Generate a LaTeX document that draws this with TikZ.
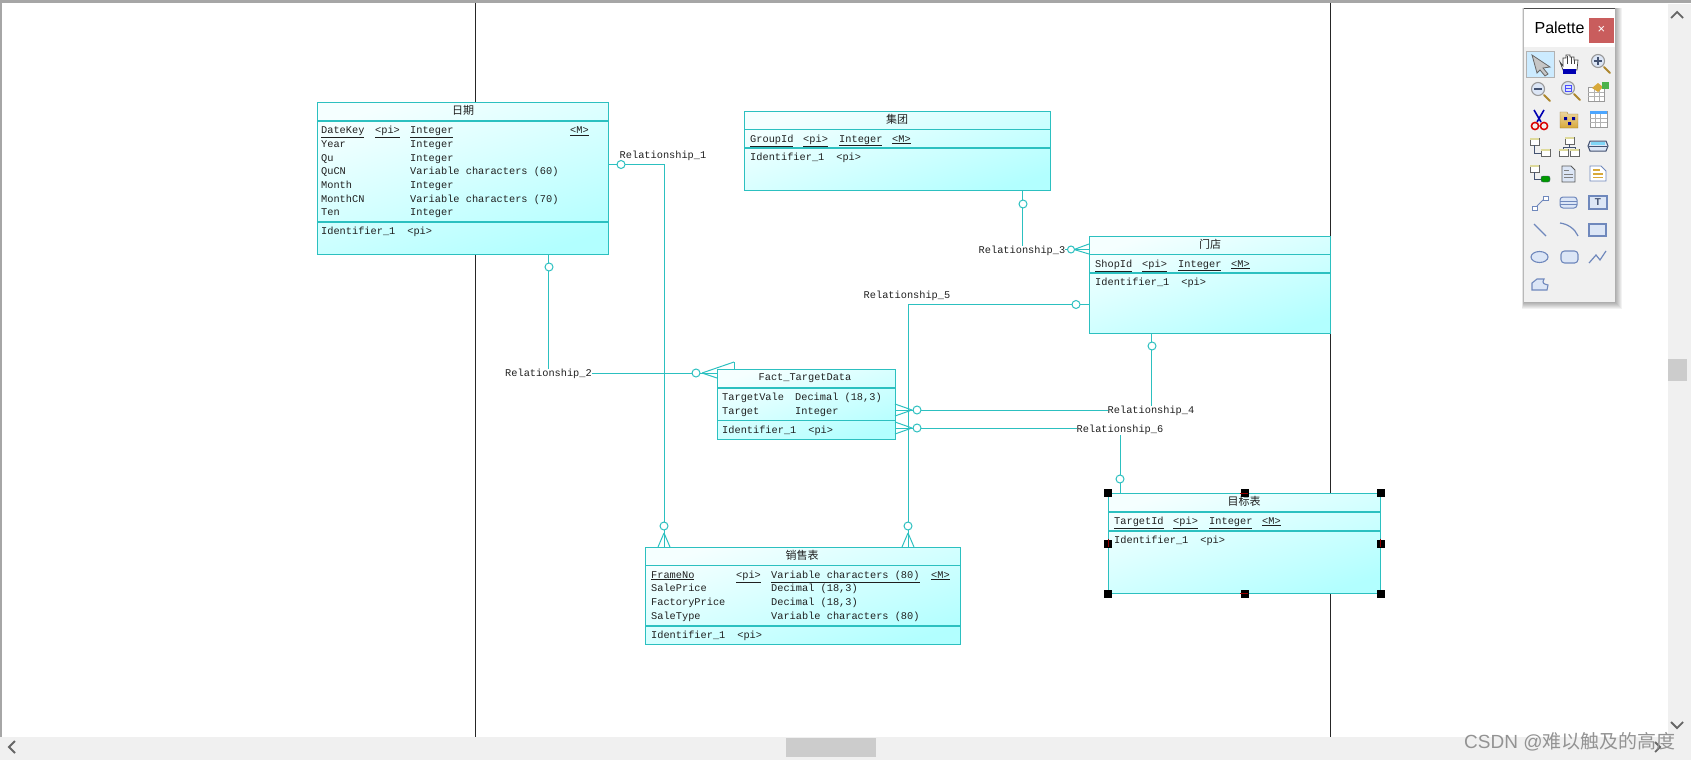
\documentclass[tikz,border=0pt]{standalone}
\usepackage{fontspec}
\setmainfont{Liberation Sans}
\setmonofont{Liberation Mono}
\newfontfamily\cjk{Noto Sans CJK SC}
\usetikzlibrary{shapes.geometric}
\definecolor{tl}{HTML}{2CC0C0}
\definecolor{ink}{HTML}{202020}
\definecolor{bar}{HTML}{F0F0F0}
\definecolor{ico}{HTML}{6F88BC}
\definecolor{icof}{HTML}{DCE6F6}
\definecolor{gold}{HTML}{D8A93A}
\newcommand{\mk}[2]{\makebox[#1pt][l]{#2}}
\newcommand{\ul}[1]{\underline{#1}}
\newcommand{\crowfoot}[3]{\draw[conn] (#1) -- (#2) (#1) -- (#3);}
\newcommand{\magn}[3]{\begin{scope}[shift={(#1,#2)}]
 \draw[gold!80!black,line width=2pt,line cap=round] (4,4) -- (10,10);
 \draw[gray!80,line width=1.1pt,fill=icof] (-2,-2) circle (6.5);
 #3
 \end{scope}}
\newcommand{\minitab}[2]{\draw[gray!80!black,fill=white,line width=.7pt] (#1,#2) rectangle ++(9,7); \fill[gray!50!yellow!60] (#1+.4,#2+.4) rectangle ++(8.2,2);}
\tikzset{
 x=1pt,y=-1pt,
 box/.style={draw=tl,line width=1.2pt,anchor=north west,inner sep=0pt,top color=white!96!cyan,bottom color=cyan!30,shading angle=18},
 attr/.style={anchor=north west,inner sep=0pt,align=left,text=ink,font=\ttfamily\fontsize{10.3}{13.7}\selectfont},
 ttl/.style={inner sep=0pt,text=ink},
 rel/.style={inner sep=0pt,fill=white,text=ink,font=\ttfamily\fontsize{10.3}{12}\selectfont},
 conn/.style={draw=tl,line width=1pt},
 divl/.style={draw=tl,line width=1.1pt},
 oc/.style={draw=tl,line width=1pt,fill=white,circle,inner sep=0pt,minimum size=8pt},
 frame/.style={draw=black!85,line width=.9pt},
 handle/.style={fill=black,inner sep=0pt,minimum size=8pt},
 icl/.style={draw=ico,line width=1.1pt,fill=icof}
}
\begin{document}
\begin{tikzpicture}
\useasboundingbox (0,0) rectangle (1691,760);
\fill[white] (0,0) rectangle (1691,760);
% window frame
\fill[gray!70] (0,0) rectangle (1691,3.5);
\fill[gray!70] (0,0) rectangle (2,738);
% page lines
\draw[frame] (475,3) -- (475,738);
\draw[frame] (1330,3) -- (1330,738);
% scrollbars
\fill[bar] (0,737) rectangle (1691,760);
\fill[bar] (1668,4) rectangle (1691,760);
\fill[gray!40] (786,738) rectangle (876,757);
\fill[gray!40] (1668,359) rectangle (1687,381);
\draw[gray!80!black,line width=1.8pt] (1671,18) -- (1677,12) -- (1683,18);
\draw[gray!80!black,line width=1.8pt] (1671,722) -- (1677,728) -- (1683,722);
\draw[gray!80!black,line width=1.8pt] (15,741) -- (9,747) -- (15,753);
\draw[gray!80!black,line width=1.8pt] (1655,742) -- (1660,747) -- (1655,752);

% entity boxes
\node[box,minimum width=291pt,minimum height=152pt] (date) at (317,102) {};
\node[box,minimum width=306pt,minimum height=79pt] (group) at (744,111) {};
\node[box,minimum width=241pt,minimum height=97pt] (shop) at (1089,236) {};
\node[box,minimum width=178pt,minimum height=70pt] (fact) at (717,369) {};
\node[box,minimum width=315pt,minimum height=97pt] (sale) at (645,547) {};
\node[box,minimum width=272pt,minimum height=100pt] (target) at (1108,493) {};

% compartments
\draw[divl] (date.west |- 0,121) -- (date.east |- 0,121);
\draw[divl] (date.west |- 0,222) -- (date.east |- 0,222);
\draw[divl] (group.west |- 0,129.5) -- (group.east |- 0,129.5);
\draw[divl] (group.west |- 0,148) -- (group.east |- 0,148);
\draw[divl] (shop.west |- 0,254.5) -- (shop.east |- 0,254.5);
\draw[divl] (shop.west |- 0,273) -- (shop.east |- 0,273);
\draw[divl] (fact.west |- 0,388) -- (fact.east |- 0,388);
\draw[divl] (fact.west |- 0,420.5) -- (fact.east |- 0,420.5);
\draw[divl] (sale.west |- 0,565.5) -- (sale.east |- 0,565.5);
\draw[divl] (sale.west |- 0,626) -- (sale.east |- 0,626);
\draw[divl] (target.west |- 0,512) -- (target.east |- 0,512);
\draw[divl] (target.west |- 0,531) -- (target.east |- 0,531);

% titles
\node[ttl,font=\cjk\fontsize{11}{12}\selectfont] (t1) at (463,110) {日期};
\node[ttl,font=\cjk\fontsize{11}{12}\selectfont] (t2) at (897,119) {集团};
\node[ttl,font=\cjk\fontsize{11}{12}\selectfont] (t3) at (1210,244) {门店};
\node[ttl,font=\ttfamily\fontsize{10.3}{12}\selectfont] (t4) at (805,378.5) {Fact\_TargetData};
\node[ttl,font=\cjk\fontsize{11}{12}\selectfont] (t5) at (802,555) {销售表};
\node[ttl,font=\cjk\fontsize{11}{12}\selectfont] (t6) at (1244,501) {目标表};

% attributes
\node[attr] (a1) at (321,126) {\mk{54}{\ul{DateKey}}\mk{35}{\ul{<pi>}}\mk{160}{\ul{Integer}}\ul{<M>}\\
 \mk{54}{Year}\mk{35}{}Integer\\
 \mk{54}{Qu}\mk{35}{}Integer\\
 \mk{54}{QuCN}\mk{35}{}Variable characters (60)\\
 \mk{54}{Month}\mk{35}{}Integer\\
 \mk{54}{MonthCN}\mk{35}{}Variable characters (70)\\
 \mk{54}{Ten}\mk{35}{}Integer};
\node[attr] (a2) at (750,134.5) {\mk{53}{\ul{GroupId}}\mk{36}{\ul{<pi>}}\mk{53}{\ul{Integer}}\ul{<M>}};
\node[attr] (a3) at (1095,259.5) {\mk{47}{\ul{ShopId}}\mk{36}{\ul{<pi>}}\mk{53}{\ul{Integer}}\ul{<M>}};
\node[attr] (a4) at (722,393) {\mk{73}{TargetVale}Decimal (18,3)\\ \mk{73}{Target}Integer};
\node[attr] (a5) at (651,570.5) {\mk{85}{\ul{FrameNo}}\mk{35}{\ul{<pi>}}\mk{160}{\ul{Variable characters (80)}}\ul{<M>}\\
 \mk{120}{SalePrice}Decimal (18,3)\\
 \mk{120}{FactoryPrice}Decimal (18,3)\\
 \mk{120}{SaleType}Variable characters (80)};
\node[attr] (a6) at (1114,516.5) {\mk{59}{\ul{TargetId}}\mk{36}{\ul{<pi>}}\mk{53}{\ul{Integer}}\ul{<M>}};
% identifiers
\node[attr] (i1) at (321,227) {Identifier\_1\hspace{12pt}<pi>};
\node[attr] (i2) at (750,153) {Identifier\_1\hspace{12pt}<pi>};
\node[attr] (i3) at (1095,278) {Identifier\_1\hspace{12pt}<pi>};
\node[attr] (i4) at (722,425.5) {Identifier\_1\hspace{12pt}<pi>};
\node[attr] (i5) at (651,631) {Identifier\_1\hspace{12pt}<pi>};
\node[attr] (i6) at (1114,536) {Identifier\_1\hspace{12pt}<pi>};

% relationship labels
\node[rel,fill=none] (rel1) at (663,155.5) {Relationship\_1};
\node[rel] (rel2) at (548.5,374) {Relationship\_2};
\node[rel] (rel3) at (1022,250.5) {Relationship\_3};
\node[rel] (rel4) at (1151,411) {Relationship\_4};
\node[rel,fill=none] (rel5) at (907,296) {Relationship\_5};
\node[rel] (rel6) at (1120,430) {Relationship\_6};

% elbows
\coordinate (k1) at (664,164.5);
\coordinate (k5) at (908,304.5);
\coordinate (y2) at (0,373);
\coordinate (y3) at (0,249.5);
\coordinate (y4) at (0,410);
\coordinate (y6) at (0,428);

% connectors
\draw[conn] (date.east |- k1) -- (k1) -- (sale.north -| k1);
\draw[conn] (rel2 |- date.south) -- (rel2.north);
\draw[conn] (rel2.east |- y2) -- (fact.west |- y2);
\draw[conn] (rel3 |- group.south) -- (rel3.north);
\draw[conn] (rel3.east |- y3) -- (shop.west |- y3);
\draw[conn] (rel4 |- shop.south) -- (rel4.north);
\draw[conn] (rel4.west |- y4) -- (fact.east |- y4);
\draw[conn] (shop.west |- k5) -- (k5) -- (sale.north -| k5);
\draw[conn] (rel6 |- target.north) -- (rel6.south);
\draw[conn] (rel6.west |- y6) -- (fact.east |- y6);

% crow's feet
\coordinate (c1) at (664,533); \coordinate (c1a) at (658,547); \coordinate (c1b) at (670,547);
\crowfoot{c1}{c1a}{c1b}
\coordinate (c5) at (908,533); \coordinate (c5a) at (902,547); \coordinate (c5b) at (914,547);
\crowfoot{c5}{c5a}{c5b}
\coordinate (c2) at (702,373); \coordinate (c2a) at (734,362); \coordinate (c2b) at (717,378);
\crowfoot{c2}{c2a}{c2b}
\draw[conn] (c2a) -- (734,369);
\coordinate (c3) at (1074,249.5); \coordinate (c3a) at (1089,244); \coordinate (c3b) at (1089,254);
\crowfoot{c3}{c3a}{c3b}
\coordinate (c4) at (912,410); \coordinate (c4a) at (895,404); \coordinate (c4b) at (895,416);
\crowfoot{c4}{c4a}{c4b}
\coordinate (c6) at (912,428); \coordinate (c6a) at (895,422); \coordinate (c6b) at (895,434);
\crowfoot{c6}{c6a}{c6b}

% optional circles
\node[oc] (o1) at (621,164.5) {};
\node[oc] (o1b) at (664,526) {};
\node[oc] (o2) at (549,267) {};
\node[oc] (o2b) at (696,373) {};
\node[oc] (o3) at (1023,204) {};
\node[oc,minimum size=7pt] (o3b) at (1071,249.5) {};
\node[oc] (o4) at (1152,346) {};
\node[oc] (o4b) at (917,410) {};
\node[oc] (o5) at (1076,304.5) {};
\node[oc] (o5b) at (908,526) {};
\node[oc] (o6) at (1120,479) {};
\node[oc] (o6b) at (917,428) {};

% selection handles
\foreach \n/\a in {h1/north west,h2/north,h3/north east,h4/west,h5/east,h6/south west,h7/south,h8/south east}{
 \node[handle] (\n) at (target.\a) {};
}
\draw[red!60!black,line width=1pt] (1240,493) -- (1248,493) (1240,593) -- (1248,593) (1108,538.5) -- (1108,546.5) (1380,538.5) -- (1380,546.5);

% watermark
\node[inner sep=0pt,anchor=west,text=gray!85,font=\fontsize{19}{22}\selectfont] (wm) at (1464,742) {CSDN @{\cjk 难以触及的高度}};

% palette
\foreach \e in {7,6,5,4,3,2,1}{\fill[black,opacity=.05] (1524-\e*.3,8) rectangle (1615+\e,302+\e);}
\fill[bar] (1524,8) rectangle (1615,302);
\fill[white] (1524,9) rectangle (1615,47);
\draw[gray!60!black,line width=1pt] (1524,8.5) -- (1615,8.5);
\fill[red!50!gray!85!white] (1589,18) rectangle (1614,43);
\node[inner sep=0pt,text=white,font=\fontsize{13}{13}\selectfont] (pclose) at (1601.5,30) {×};
\node[inner sep=0pt,text=black,font=\fontsize{16}{17}\selectfont] (ptitle) at (1559.5,28) {Palette};
% selected tool
\draw[gray!60,fill=blue!40!cyan!20] (1526.5,51) rectangle (1554,77);
% r1
\draw[gray!80!black,fill=gray!45,line width=.8pt] (1532,55) -- (1550,67) -- (1543,68) -- (1548,74) -- (1545,76) -- (1540,70) -- (1537,73) -- cycle;
\begin{scope}[shift={(1569,64)}]
 \draw[gray!50!black,fill=white,line width=.7pt] (-9,-2) -- (-6,2) -- (-6,-6) -- (-3,-6) -- (-3,-9) -- (1,-9) -- (1,-7) -- (5,-7) -- (5,-4) -- (9,-4) -- (8,6) -- (-6,6) -- cycle;
 \draw[gray!50!black,line width=.5pt] (-2,-8) -- (-2,0) (2,-7) -- (2,0) (5,-4) -- (5,0);
 \fill[blue!70!black] (-6,5) rectangle (7,10);
\end{scope}
\magn{1600}{63}{\draw[ico!60!black,line width=1.3pt] (-6,-2) -- (2,-2) (-2,-6) -- (-2,2);}
% r2
\magn{1540}{91}{\draw[ico!60!black,line width=1.3pt] (-6,-2) -- (2,-2);}
\magn{1570}{90}{\draw[blue!70,line width=1pt] (-5,-5) rectangle (1,1) (-5,-2) -- (1,-2);}
\begin{scope}[shift={(1598,91)}]
 \draw[gray!80,fill=white] (-10,-4) rectangle (6,10);
 \draw[gray!60] (-10,1) -- (6,1) (-10,5) -- (6,5) (-4,-4) -- (-4,10) (1,-4) -- (1,10);
 \fill[gold] (-6,-3) -- (0,-8) -- (5,-4) -- (0,1) -- cycle;
 \fill[green!40!gray] (4,-9) rectangle (11,-2);
\end{scope}
% r3
\begin{scope}[shift={(1539,119)}]
 \draw[blue!70!black,line width=1.6pt] (-5,-9) -- (2,3) (5,-9) -- (-2,3);
 \draw[red!85!black,line width=1.5pt] (-4,7) circle (3.6) (5,7) circle (3.6);
\end{scope}
\begin{scope}[shift={(1569,119)}]
 \draw[gold!70!black,top color=gold!50,bottom color=gold] (-9,-7) -- (-2,-7) -- (-1,-5) -- (9,-5) -- (9,9) -- (-9,9) -- cycle;
 \fill[blue!60!black] (-5,-2) rectangle (-2,1) (3,-2) rectangle (6,1) (-1,3) rectangle (2,6);
\end{scope}
\begin{scope}[shift={(1598,119)}]
 \draw[gray!80,fill=white] (-8,-8) rectangle (9,8);
 \fill[blue!50!cyan!70] (-8,-8) rectangle (9,-5);
 \draw[gray!60] (-8,-1) -- (9,-1) (-8,3) -- (9,3) (-3,-5) -- (-3,8) (2,-5) -- (2,8);
\end{scope}
% r4
\minitab{1530}{138}\minitab{1541}{149}
\draw[ico!60!black,line width=1pt] (1534,145) -- (1534,153) -- (1541,153);
\minitab{1565}{137}\minitab{1559}{149}\minitab{1570}{149}
\draw[ico!60!black,line width=1pt] (1569,144) -- (1569,147) (1563,149) -- (1563,147) -- (1575,147) -- (1575,149);
\begin{scope}[shift={(1598,146)}]
 \draw[ico!60!black,line width=1pt,fill=icof] (-8,-5) -- (8,-5) -- (10,0) -- (8,5) -- (-8,5) -- (-10,0) -- cycle;
 \fill[cyan!50] (-7,-4) rectangle (7,-1);
 \draw[ico!60!black] (-9,0) -- (9,0);
\end{scope}
% r5
\minitab{1530}{165}
\draw[ico!60!black,line width=1pt] (1534,172) -- (1534,179) -- (1541,179);
\draw[ico!60!black,fill=green!60!black,rounded corners=2pt] (1541,176) rectangle (1550,182);
% r5 doc
\draw[gray!70!black,fill=icof,line width=.9pt] (1562,166) -- (1571,166) -- (1575,170) -- (1575,182) -- (1562,182) -- cycle;
\draw[gray] (1564,170) -- (1569,170) (1564,174) -- (1573,174) (1564,177) -- (1573,177);
\draw[ico,fill=white,line width=.9pt] (1590,166) -- (1601,166) -- (1606,171) -- (1606,181) -- (1590,181) -- cycle;
\draw[gold,line width=1.3pt] (1593,170) -- (1600,170) (1593,174) -- (1603,174) (1593,177.5) -- (1603,177.5);
% r6
\draw[ico,fill=white] (1532,206) rectangle +(5,4) (1543,196) rectangle +(5,4);
\draw[ico,line width=.9pt] (1537,206) -- (1543,200);
\draw[ico,fill=icof,rounded corners=3pt,line width=1pt] (1560,197) rectangle (1577,208);
\draw[ico] (1560,201) -- (1577,201) (1560,204) -- (1577,204);
\draw[icl] (1589,196) rectangle (1607,209);
\node[inner sep=0pt,text=ico!60!black,font=\bfseries\fontsize{10}{10}\selectfont] (ptool) at (1598,202.5) {T};
% r7
\draw[ico,line width=1.2pt] (1534,224) -- (1546,236);
\draw[ico,line width=1.2pt] (1560,223) .. controls (1568,224) and (1575,229) .. (1578,236);
\draw[icl] (1589,224) rectangle (1606,236);
% r8
\draw[icl] (1539.5,257) ellipse (8.5 and 5.5);
\draw[icl,rounded corners=3.5pt] (1561,251) rectangle (1578,263);
\draw[ico,line width=1.2pt] (1589,263) -- (1596,255) -- (1600,260) -- (1606,251);
% r9
\draw[icl] (1532,290) -- (1532,283) -- (1537,279) -- (1544,279) .. controls (1541,284) and (1545,284) .. (1548,285) -- (1547,290) -- cycle;
\end{tikzpicture}
\end{document}
